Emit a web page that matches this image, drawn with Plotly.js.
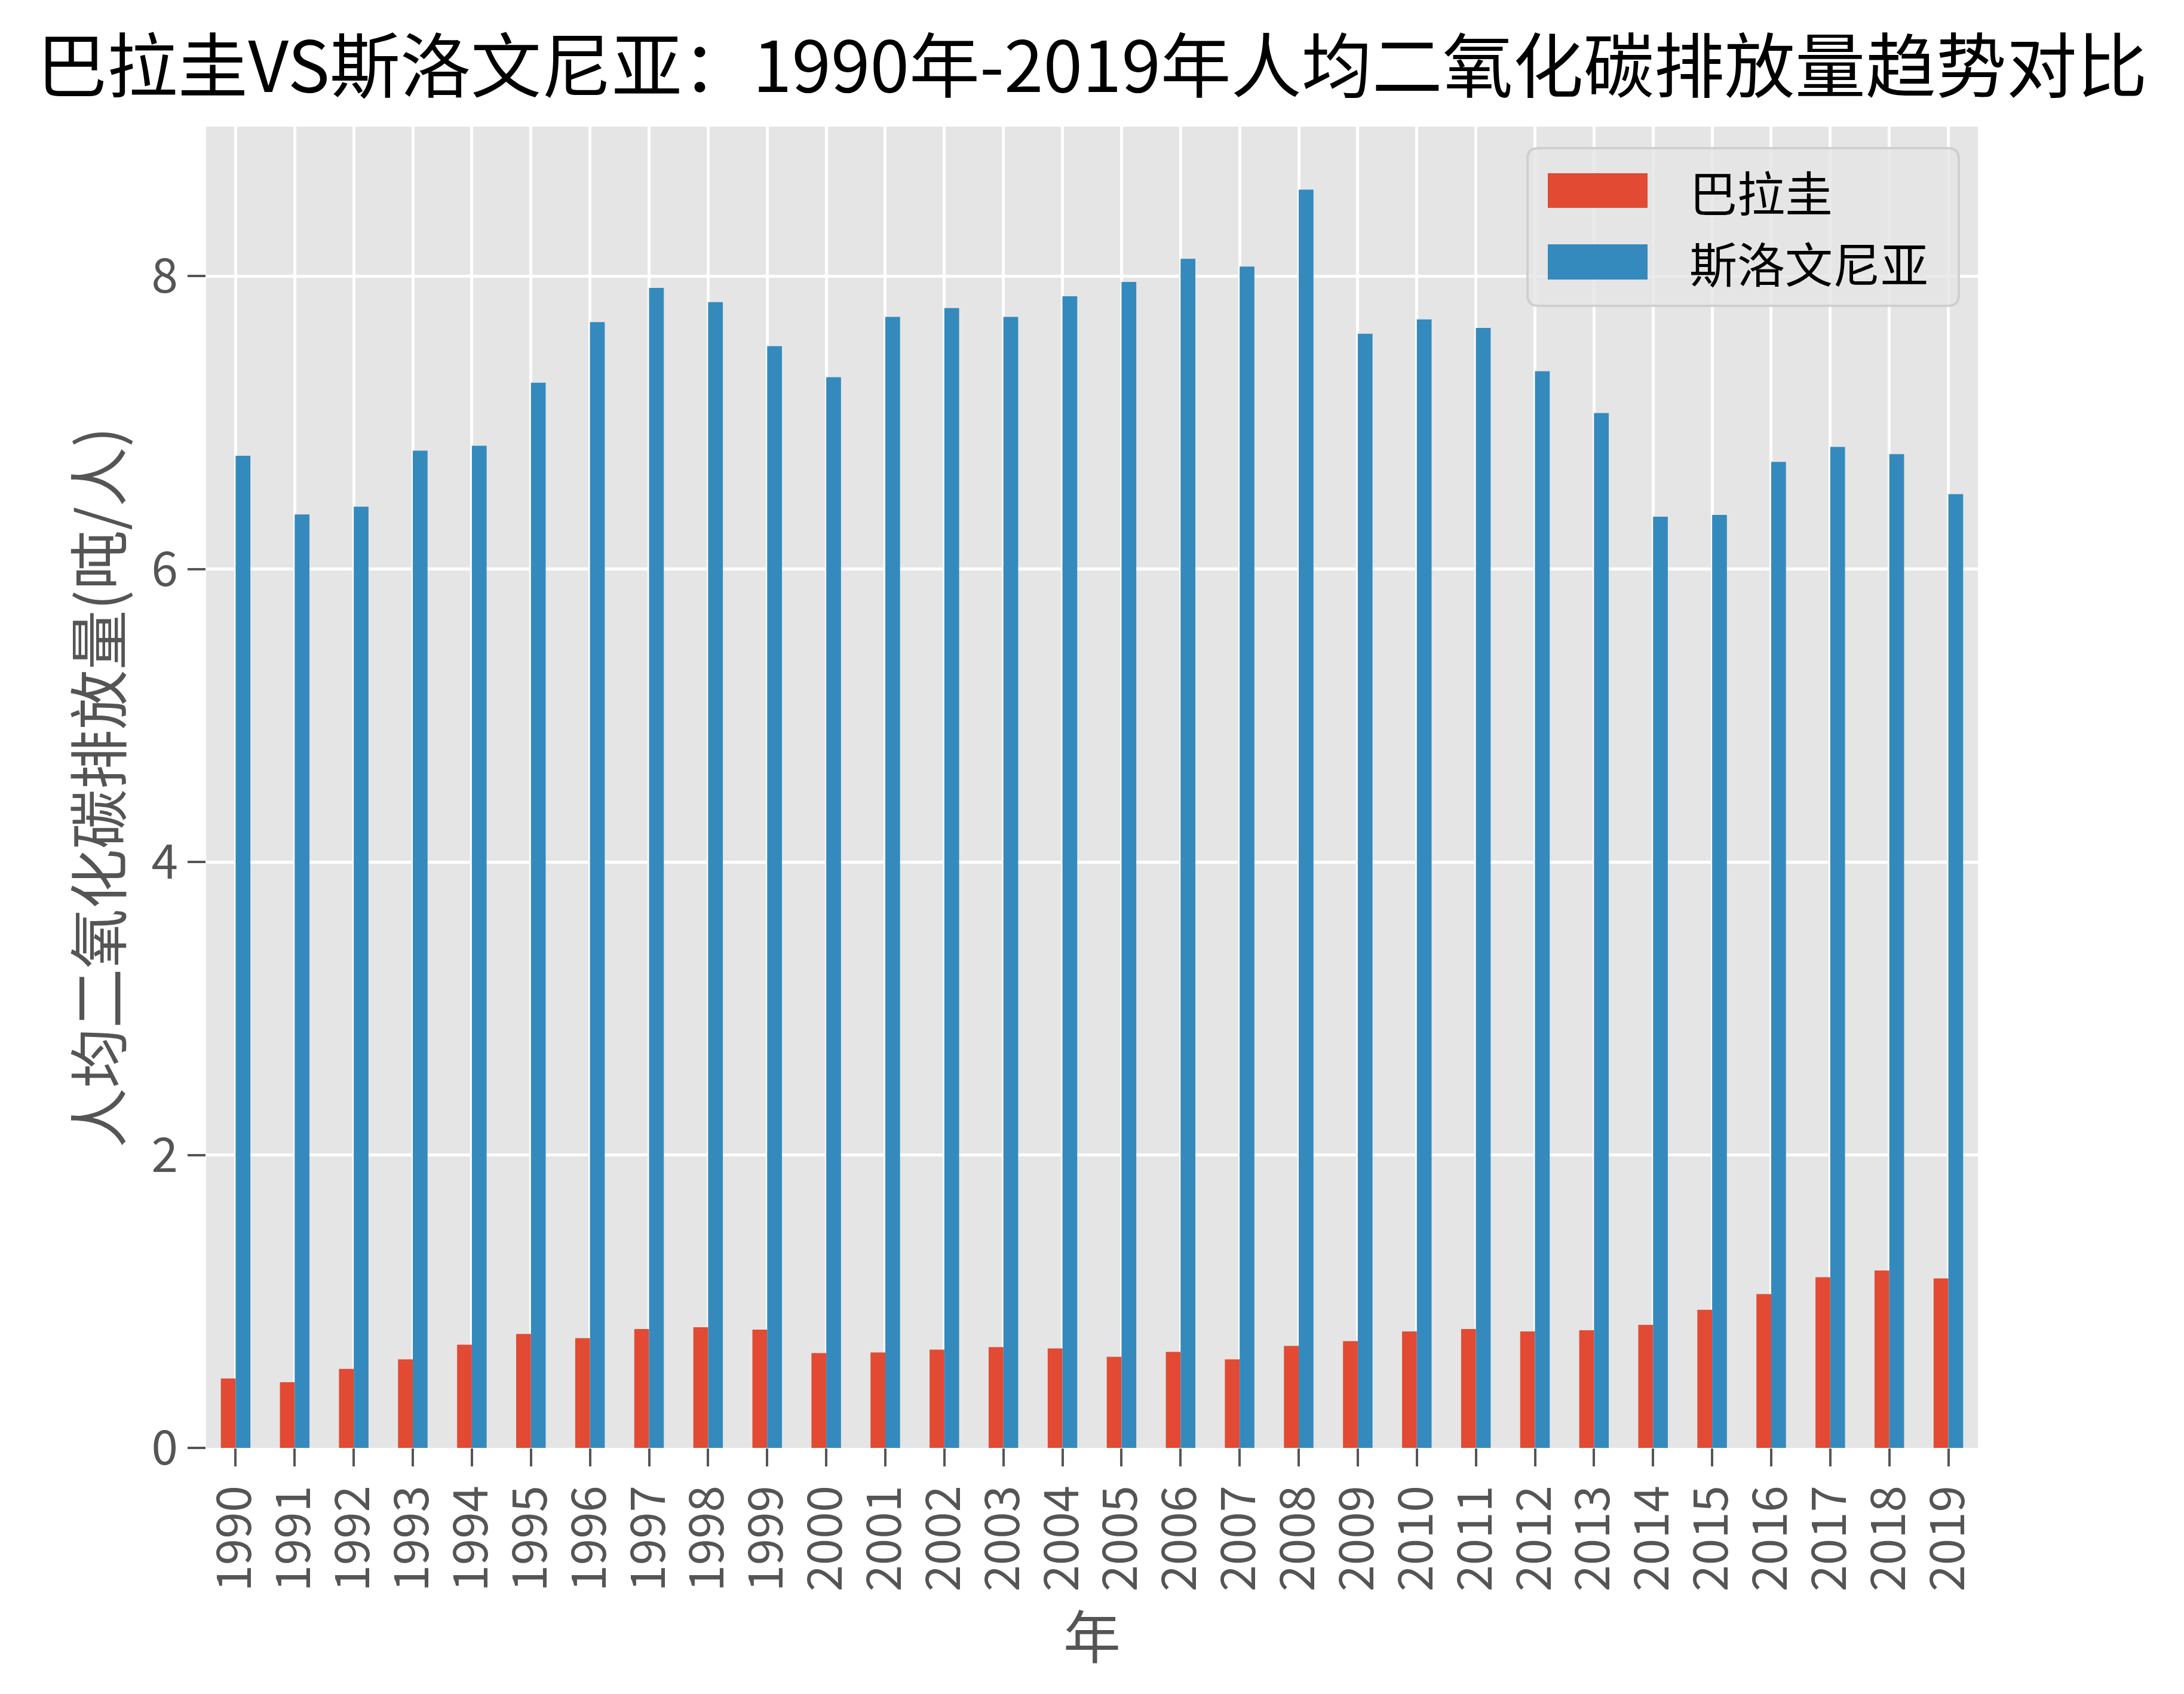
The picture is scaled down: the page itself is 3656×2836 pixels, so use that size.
<!DOCTYPE html>
<html>
<head>
<meta charset="utf-8">
<script src="https://cdn.plot.ly/plotly-3.0.1.min.js"></script>
<style>html,body{margin:0;padding:0;background:#fff;}#chart{width:3656px;height:2836px;}</style>
</head>
<body>
<div id="chart"></div>
<script>
const years = ['1990','1991','1992','1993','1994','1995','1996','1997','1998','1999','2000','2001','2002','2003','2004','2005','2006','2007','2008','2009','2010','2011','2012','2013','2014','2015','2016','2017','2018','2019'];
const paraguay = [0.474,0.449,0.539,0.605,0.704,0.778,0.749,0.811,0.824,0.807,0.647,0.651,0.671,0.688,0.679,0.622,0.655,0.605,0.696,0.729,0.795,0.811,0.795,0.803,0.840,0.943,1.050,1.165,1.211,1.157];
const slovenia = [6.773,6.373,6.426,6.808,6.841,7.272,7.686,7.919,7.822,7.521,7.309,7.721,7.781,7.721,7.862,7.960,8.118,8.065,8.590,7.606,7.704,7.646,7.350,7.065,6.357,6.369,6.731,6.833,6.784,6.511];
const seriesNames = ['巴拉圭','斯洛文尼亚'];
const seriesColors = ['#E24A33','#348ABD'];
const titleText = '巴拉圭VS斯洛文尼亚：1990年-2019年人均二氧化碳排放量趋势对比';
const xTitle = '年';
const yTitle = '人均二氧化碳排放量(吨/人)';

const W = 3656, H = 2836;
const M = {l:345, r:345, t:212, b:412};
const PW = W - M.l - M.r, PH = H - M.t - M.b;
const FONT = 'Noto Sans CJK SC, sans-serif';
function px(X){ return (X - M.l)/PW; }
function py(Y){ return (H - M.b - Y)/PH; }
function roundRect(X0,Y0,X1,Y1,r){
  const x0=px(X0), x1=px(X1), y0=py(Y0), y1=py(Y1);
  const rx=r/PW, ry=r/PH;
  return `M${x0+rx},${y0} L${x1-rx},${y0} Q${x1},${y0} ${x1},${y0-ry} L${x1},${y1+ry} Q${x1},${y1} ${x1-rx},${y1} L${x0+rx},${y1} Q${x0},${y1} ${x0},${y1+ry} L${x0},${y0-ry} Q${x0},${y0} ${x0+rx},${y0} Z`;
}

const traces = [
  {type:'bar', name:seriesNames[0], x:years, y:paraguay, marker:{color:seriesColors[0], line:{width:0}}},
  {type:'bar', name:seriesNames[1], x:years, y:slovenia, marker:{color:seriesColors[1], line:{width:0}}}
];

const shapes = [
  {type:'path', xref:'paper', yref:'paper', layer:'above', path:roundRect(2557,248,3279,512,18),
   fillcolor:'rgba(229,229,229,0.8)', line:{color:'rgba(204,204,204,0.9)', width:4}},
  {type:'rect', xref:'paper', yref:'paper', layer:'above', x0:px(2591), x1:px(2758), y0:py(348), y1:py(290),
   fillcolor:seriesColors[0], line:{width:0}},
  {type:'rect', xref:'paper', yref:'paper', layer:'above', x0:px(2591), x1:px(2758), y0:py(468), y1:py(409),
   fillcolor:seriesColors[1], line:{width:0}}
];
const annotations = [
  {xref:'paper', yref:'paper', x:px(2826), y:py(319), xanchor:'left', yanchor:'middle', showarrow:false,
   text:seriesNames[0], font:{family:FONT, size:80, color:'#000'}},
  {xref:'paper', yref:'paper', x:px(2826), y:py(438), xanchor:'left', yanchor:'middle', showarrow:false,
   text:seriesNames[1], font:{family:FONT, size:80, color:'#000'}}
];

const layout = {
  width:W, height:H,
  margin:M,
  paper_bgcolor:'#ffffff',
  plot_bgcolor:'#E5E5E5',
  font:{family:FONT, color:'#555555'},
  showlegend:false,
  barmode:'group', bargap:0.5, bargroupgap:0,
  title:{text:titleText, font:{family:FONT, size:118, color:'#000000'}, x:0.5, xref:'paper', y:1-113/H, yref:'container', xanchor:'center', yanchor:'middle'},
  xaxis:{type:'category', range:[-0.5, years.length-0.5], showgrid:true, gridcolor:'#ffffff', gridwidth:5,
    ticks:'outside', ticklen:30, tickwidth:4, tickcolor:'#555555', tickangle:-90,
    tickfont:{family:FONT, size:80, color:'#555555'}, showline:false, zeroline:false, automargin:false,
    title:{text:xTitle, font:{family:FONT, size:96, color:'#555555'}, standoff:20}},
  yaxis:{range:[0, 9.02], tickvals:[0,2,4,6,8], ticktext:['0','2','4','6','8'], showgrid:true, gridcolor:'#ffffff', gridwidth:5,
    ticks:'outside', ticklen:30, tickwidth:4, tickcolor:'#555555', zeroline:false, showline:false, automargin:false,
    tickfont:{family:FONT, size:80, color:'#555555'},
    title:{text:yTitle, font:{family:FONT, size:100, color:'#555555'}, standoff:16}},
  shapes:shapes,
  annotations:annotations
};

Plotly.newPlot('chart', traces, layout, {staticPlot:true});
</script>
</body>
</html>
